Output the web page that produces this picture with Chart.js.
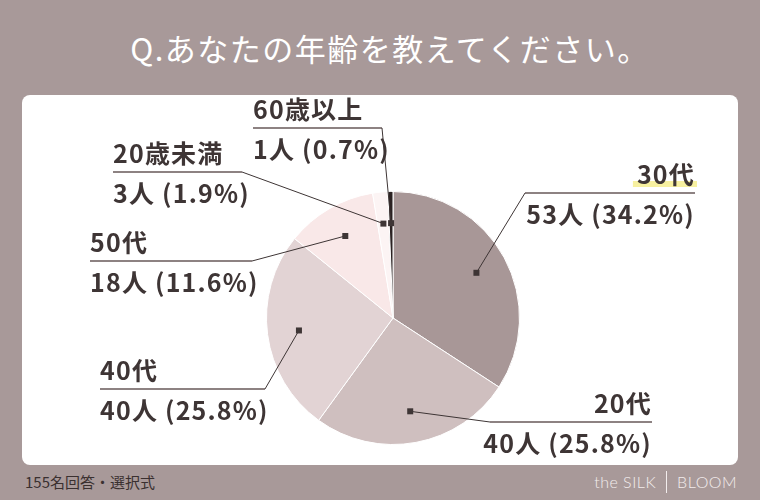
<!DOCTYPE html>
<html lang="ja">
<head>
<meta charset="utf-8">
<script src="https://cdn.jsdelivr.net/npm/chart.js@4"></script>
<style>
    html, body { margin: 0; padding: 0; }
    body {
        width: 760px; height: 500px; overflow: hidden; position: relative;
        background: #a89999;
        font-family: 'Noto Sans CJK JP', sans-serif;
    }
    .title {
        position: absolute; left: 10px; top: 28px; width: 760px; text-align: center;
        color: #ffffff; font-size: 31px; letter-spacing: 1.5px; line-height: 40px;
    }
    .panel {
        position: absolute; left: 22px; top: 95px; width: 716px; height: 370px;
        background: #ffffff; border-radius: 8px;
    }
    .note {
        position: absolute; left: 25px; top: 471px; color: #3a3030; font-size: 15px;
    }
    .brand {
        position: absolute; right: 23px; top: 471px; color: #f3eded;
        font-family: Lato, sans-serif; font-weight: 300; font-size: 16px; letter-spacing: 0.5px;
    }
    .brand span { display: inline-block; width: 1px; height: 22px; background: #f3eded; margin: 0 10px; vertical-align: -5px; }
    canvas { position: absolute; left: 0; top: 0; }
</style>
</head>
<body>
<div class="title">Q.あなたの年齢を教えてください。</div>
<div class="panel"></div>
<div class="note">155名回答・選択式</div>
<div class="brand">the SILK<span></span>BLOOM</div>
<canvas id="ageChart" width="760" height="500"></canvas>

<script>
// data
const categories = ['30代', '20代', '40代', '50代', '20歳未満', '60歳以上'];
const counts = [53, 40, 40, 18, 3, 1];
const percents = ['34.2', '25.8', '25.8', '11.6', '1.9', '0.7'];

const sliceColors = ['#a89797', '#cfbfbf', '#e2d3d4', '#f9e8e8', '#fcf4f4', '#2b2222'];

// where each callout sits (underline y, x range, which side the text hangs)
const callouts = [
    { y: 193, x1: 525, x2: 695, side: 'right', highlight: true },
    { y: 422, x1: 490, x2: 652, side: 'right' },
    { y: 389, x1: 100, x2: 265, side: 'left' },
    { y: 261, x1: 90,  x2: 252, side: 'left' },
    { y: 172, x1: 113, x2: 242, side: 'left' },
    { y: 128, x1: 253, x2: 382, side: 'left' }
];

const calloutPlugin = {
    id: 'callouts',
    afterDatasetsDraw(chart) {
        const ctx = chart.ctx;
        const arcs = chart.getDatasetMeta(0).data;
        ctx.save();
        arcs.forEach((arc, i) => {
            const c = callouts[i];
            const p = arc.getProps(['x', 'y', 'startAngle', 'endAngle', 'outerRadius'], true);
            const mid = (p.startAngle + p.endAngle) / 2;
            const mx = p.x + Math.cos(mid) * p.outerRadius * 0.75;
            const my = p.y + Math.sin(mid) * p.outerRadius * 0.75;
            const ex = c.side === 'left' ? c.x2 : c.x1;

            // underline
            ctx.strokeStyle = '#8d8282';
            ctx.lineWidth = 2;
            ctx.beginPath();
            ctx.moveTo(c.x1, c.y);
            ctx.lineTo(c.x2, c.y);
            ctx.stroke();

            // leader
            ctx.strokeStyle = '#3e3535';
            ctx.lineWidth = 1;
            ctx.beginPath();
            ctx.moveTo(mx, my);
            ctx.lineTo(ex, c.y);
            ctx.stroke();
            ctx.fillStyle = '#3e3535';
            ctx.fillRect(mx - 3, my - 3, 6, 6);

            ctx.font = 'bold 25px "Noto Sans CJK JP", sans-serif';
            ctx.letterSpacing = '1.2px';
            ctx.textBaseline = 'alphabetic';
            const name = categories[i];
            const value = counts[i] + '人 (' + percents[i] + '%)';

            if (c.highlight) {
                const w = ctx.measureText(name).width;
                ctx.fillStyle = '#f7f0a0';
                ctx.fillRect(c.x2 - w - 4, c.y - 12, w + 6, 6);
            }

            ctx.fillStyle = '#3e3535';
            if (c.side === 'left') {
                ctx.textAlign = 'left';
                ctx.fillText(name, c.x1, c.y - 9);
                ctx.fillText(value, c.x1, c.y + 31);
            } else {
                ctx.textAlign = 'right';
                ctx.fillText(name, c.x2, c.y - 9);
                ctx.fillText(value, c.x2, c.y + 31);
            }
        });
        ctx.restore();
    }
};

new Chart(document.getElementById('ageChart'), {
    type: 'pie',
    data: {
        labels: categories,
        datasets: [{
            data: counts,
            backgroundColor: sliceColors,
            borderColor: '#ffffff',
            borderWidth: 1
        }]
    },
    options: {
        responsive: false,
        animation: false,
        layout: { padding: { top: 191, bottom: 55, left: 266, right: 240 } },
        plugins: {
            legend: { display: false },
            tooltip: { enabled: false }
        }
    },
    plugins: [calloutPlugin]
});
</script>
</body>
</html>
